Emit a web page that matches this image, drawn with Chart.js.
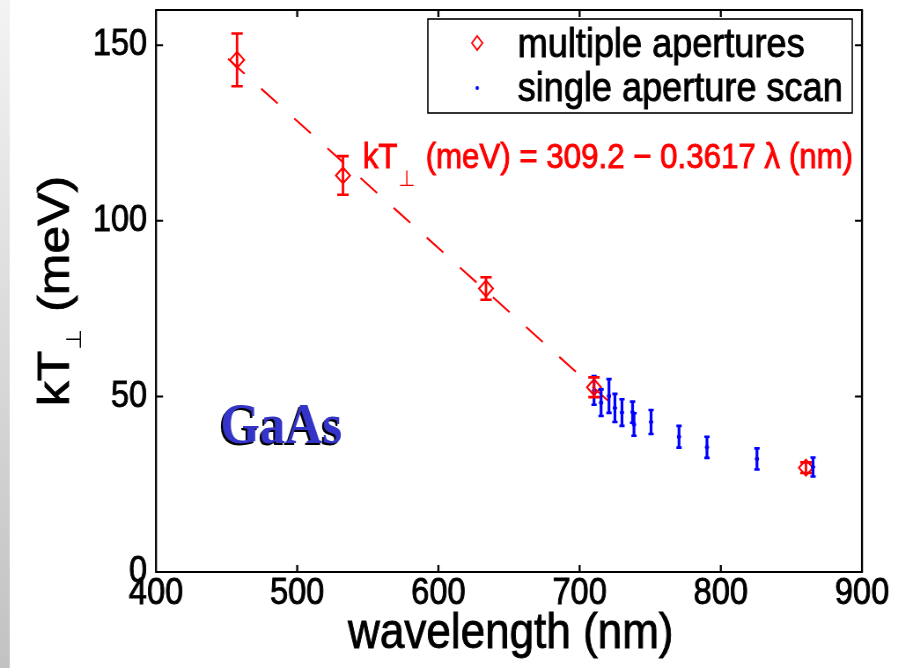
<!DOCTYPE html>
<html>
<head>
<meta charset="utf-8">
<script src="https://cdn.jsdelivr.net/npm/chart.js@4.4.1/dist/chart.umd.min.js"></script>
<style>
  html, body { margin: 0; padding: 0; background: #fff; overflow: hidden; }
</style>
</head>
<body>
<!-- drawn 1020 wide and squeezed to 898 by CSS, like the stretched original figure -->
<canvas id="c" width="1020" height="668" style="width:898px;height:668px;display:block"></canvas>
<script>
// multiple apertures (red diamonds)
const multiWavelength = [457.4, 532.4, 633.7, 710.2, 860.3];
const multiKT = [145.8, 112.9, 80.7, 52.6, 29.7];
const multiErr = [7.5, 5.5, 3.2, 2.8, 1.5];

// single aperture scan (blue dots)
const scanWavelength = [710.2, 715.2, 720.8, 725, 730, 737.5, 738.5, 750.6, 770.4, 790.2, 825.6, 865.3];
const scanKT = [51.7, 48.2, 50.1, 46.7, 45.4, 45.5, 42.0, 42.7, 38.5, 35.5, 32.2, 29.9];
const scanErr = [4.1, 3.8, 4.8, 4.0, 3.8, 3.0, 3.2, 3.4, 3.1, 3.0, 3.0, 2.7];

// linear fit, end points
const fitWavelength = [451, 720];
const fitKT = [146.1, 48.8];

const xTicks = [400, 500, 600, 700, 800, 900];
const yTicks = [0, 50, 100, 150];

const FONT = "'Liberation Sans', Arial, sans-serif";
const STROKE = 0.9; // thickens glyphs a little, the original text is heavy

function toPoints(xs, ys) {
  return xs.map((v, i) => ({ x: v, y: ys[i] }));
}

function heavyText(ctx, text, x, y) {
  ctx.lineWidth = STROKE;
  ctx.strokeStyle = ctx.fillStyle;
  ctx.strokeText(text, x, y);
  ctx.fillText(text, x, y);
}

const decorations = {
  id: "decorations",
  beforeDraw(chart) {
    const { ctx, width, height } = chart;
    ctx.save();
    ctx.fillStyle = "#fff";
    ctx.fillRect(0, 0, width, height);
    const g = ctx.createLinearGradient(0, 0, 0, height);
    g.addColorStop(0, "#f3f3f3");
    g.addColorStop(1, "#c2c2c2");
    ctx.fillStyle = g;
    ctx.fillRect(0, 0, 11, height);
    ctx.restore();
  },
  afterDatasetsDraw(chart) {
    const { ctx } = chart;
    const x = chart.scales.x;
    const y = chart.scales.y;
    chart.data.datasets.forEach((ds) => {
      if (!ds.errors) return;
      ctx.save();
      ctx.strokeStyle = ds.borderColor;
      ds.data.forEach((p, j) => {
        const px = x.getPixelForValue(p.x);
        const top = y.getPixelForValue(p.y + ds.errors[j]);
        const bot = y.getPixelForValue(p.y - ds.errors[j]);
        ctx.lineWidth = ds.errLineWidth;
        ctx.beginPath();
        ctx.moveTo(px, top);
        ctx.lineTo(px, bot);
        ctx.stroke();
        ctx.lineWidth = ds.capLineWidth;
        ctx.beginPath();
        ctx.moveTo(px - ds.capHalf, top);
        ctx.lineTo(px + ds.capHalf, top);
        ctx.moveTo(px - ds.capHalf, bot);
        ctx.lineTo(px + ds.capHalf, bot);
        ctx.stroke();
      });
      ctx.restore();
    });
  },
  afterDraw(chart) {
    const { ctx, chartArea: a } = chart;
    const x = chart.scales.x;
    const y = chart.scales.y;
    ctx.save();
    ctx.strokeStyle = "#000";

    // axes box
    ctx.lineWidth = 2;
    ctx.beginPath();
    ctx.moveTo(a.left - 1, a.top);
    ctx.lineTo(a.right + 1, a.top);
    ctx.moveTo(a.left - 1, a.bottom);
    ctx.lineTo(a.right + 1, a.bottom);
    ctx.stroke();
    ctx.lineWidth = 2.3;
    ctx.beginPath();
    ctx.moveTo(a.left, a.top);
    ctx.lineTo(a.left, a.bottom);
    ctx.moveTo(a.right, a.top);
    ctx.lineTo(a.right, a.bottom);
    ctx.stroke();

    // inward ticks on all four sides
    ctx.beginPath();
    xTicks.slice(1, -1).forEach((v) => {
      const px = x.getPixelForValue(v);
      ctx.moveTo(px, a.bottom);
      ctx.lineTo(px, a.bottom - 7);
      ctx.moveTo(px, a.top);
      ctx.lineTo(px, a.top + 7);
    });
    ctx.stroke();
    ctx.lineWidth = 2;
    ctx.beginPath();
    yTicks.slice(1).forEach((v) => {
      const py = y.getPixelForValue(v);
      ctx.moveTo(a.left, py);
      ctx.lineTo(a.left + 8, py);
      ctx.moveTo(a.right, py);
      ctx.lineTo(a.right - 8, py);
    });
    ctx.stroke();

    // x axis title
    ctx.fillStyle = "#000";
    ctx.textBaseline = "alphabetic";
    ctx.textAlign = "center";
    ctx.font = "50px " + FONT;
    heavyText(ctx, "wavelength (nm)", (a.left + a.right) / 2 + 2, 648);
    ctx.textAlign = "left";

    // y axis title with subscript
    ctx.save();
    ctx.translate(78, (a.top + a.bottom) / 2);
    ctx.rotate(-Math.PI / 2);
    ctx.font = "50px " + FONT;
    const wKT = ctx.measureText("kT").width;
    const wRest = ctx.measureText(" (meV)").width;
    ctx.font = "24px 'DejaVu Sans'";
    const wSub = ctx.measureText("\u22A5").width;
    const total = wKT + wSub + 4 + wRest;
    let tx = -total / 2;
    ctx.font = "50px " + FONT;
    heavyText(ctx, "kT", tx, 0);
    tx += wKT + 1;
    ctx.font = "24px 'DejaVu Sans'";
    ctx.fillText("\u22A5", tx, 14);
    tx += wSub + 3;
    ctx.font = "50px " + FONT;
    heavyText(ctx, " (meV)", tx, 0);
    ctx.restore();

    // fit equation
    ctx.fillStyle = "#ff0000";
    ctx.font = "35.5px " + FONT;
    let ex = 412;
    heavyText(ctx, "kT", ex, 168);
    ex += ctx.measureText("kT").width + 1;
    ctx.font = "22px 'DejaVu Sans'";
    ctx.fillText("\u22A5", ex, 186);
    ex += ctx.measureText("\u22A5").width + 2;
    ctx.font = "35.5px " + FONT;
    heavyText(ctx, " (meV) = 309.2 \u2212 0.3617 \u03BB (nm)", ex, 168);

    // GaAs label
    ctx.font = "bold 58px 'Liberation Serif', 'Times New Roman', serif";
    ctx.fillStyle = "#000";
    ctx.fillText("GaAs", 248, 445);
    ctx.fillStyle = "#3434c8";
    ctx.fillText("GaAs", 250, 443);

    // legend
    ctx.lineWidth = 1.6;
    ctx.strokeStyle = "#000";
    ctx.strokeRect(486, 19, 482, 94);
    ctx.strokeStyle = "#ff0000";
    ctx.lineWidth = 1.8;
    ctx.beginPath();
    ctx.moveTo(542, 36);
    ctx.lineTo(548, 43);
    ctx.lineTo(542, 50);
    ctx.lineTo(536, 43);
    ctx.closePath();
    ctx.stroke();
    ctx.fillStyle = "#0000ff";
    ctx.beginPath();
    ctx.arc(542, 88, 2, 0, Math.PI * 2);
    ctx.fill();
    ctx.fillStyle = "#000";
    ctx.font = "41px " + FONT;
    heavyText(ctx, "multiple apertures", 588, 57);
    heavyText(ctx, "single aperture scan", 588, 101);

    ctx.restore();
  },
};

new Chart(document.getElementById("c"), {
  type: "scatter",
  data: {
    datasets: [
      {
        label: "single aperture scan",
        data: toPoints(scanWavelength, scanKT),
        pointStyle: "circle",
        pointRadius: 2,
        pointBackgroundColor: "#0000ff",
        pointBorderColor: "#0000ff",
        borderColor: "#0000ff",
        errors: scanErr,
        errLineWidth: 3.2,
        capLineWidth: 2.6,
        capHalf: 3,
      },
      {
        label: "multiple apertures",
        data: toPoints(multiWavelength, multiKT),
        pointStyle: "rectRot",
        pointRadius: 8,
        pointBorderWidth: 2,
        pointBackgroundColor: "rgba(0,0,0,0)",
        pointBorderColor: "#ff0000",
        borderColor: "#ff0000",
        errors: multiErr,
        errLineWidth: 2.8,
        capLineWidth: 2.6,
        capHalf: 6.5,
      },
      {
        label: "fit",
        data: toPoints(fitWavelength, fitKT),
        showLine: true,
        pointRadius: 0,
        borderColor: "#ff0000",
        borderWidth: 2,
        borderDash: [24, 24],
      },
    ],
  },
  options: {
    responsive: false,
    devicePixelRatio: 1,
    animation: false,
    layout: { padding: { left: 0, right: 40.9, top: 7, bottom: 0 } },
    plugins: { legend: { display: false }, tooltip: { enabled: false } },
    scales: {
      x: {
        type: "linear",
        min: 400,
        max: 900,
        afterBuildTicks: (s) => { s.ticks = xTicks.map((v) => ({ value: v })); },
        afterFit: (s) => {
          s.height = 96;
          s.paddingLeft = 0;
          s.paddingRight = 0;
        },
        grid: { display: false, drawTicks: false },
        border: { display: false },
        ticks: {
          color: "#000",
          padding: 0,
          maxRotation: 0,
          textStrokeColor: "#000",
          textStrokeWidth: STROKE,
          font: { family: FONT, size: 37 },
        },
      },
      y: {
        type: "linear",
        min: 0,
        max: 160,
        afterBuildTicks: (s) => { s.ticks = yTicks.map((v) => ({ value: v })); },
        afterFit: (s) => {
          s.width = 177.2;
          s.paddingTop = 0;
          s.paddingBottom = 0;
        },
        grid: { display: false, drawTicks: false },
        border: { display: false },
        ticks: {
          color: "#000",
          padding: 10,
          textStrokeColor: "#000",
          textStrokeWidth: STROKE,
          font: { family: FONT, size: 37 },
        },
      },
    },
  },
  plugins: [decorations],
});
</script>
</body>
</html>
